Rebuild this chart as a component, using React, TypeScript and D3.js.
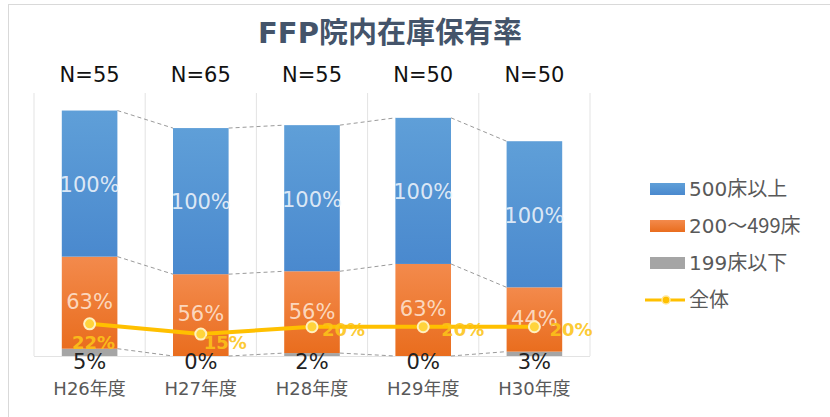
import React from "react";
import * as d3 from "d3";

const categories = ["H26年度", "H27年度", "H28年度", "H29年度", "H30年度"];
const nLabels = ["N=55", "N=65", "N=55", "N=50", "N=50"];
const small = [5, 0, 2, 0, 3]; // 199床以下
const mid = [63, 56, 56, 63, 44]; // 200～499床
const large = [100, 100, 100, 100, 100]; // 500床以上
const overall = [22, 15, 20, 20, 20]; // 全体
const seriesNames = ["500床以上", "200～499床", "199床以下", "全体"];

const W = 830;
const H = 417;
const FONT = "'DejaVu Sans', 'Noto Sans CJK JP', sans-serif";
const CJK = "'Noto Sans CJK JP', sans-serif";

export default function App() {
  const x = d3.scaleBand<string>().domain(categories).range([34, 590]).paddingInner(0).paddingOuter(0);
  const y = d3.scaleLinear().domain([0, 180]).range([356, 93]);
  const bw = x.bandwidth() * 0.5;
  const bx = (c: string) => (x(c) as number) + (x.bandwidth() - bw) / 2;
  const cx = (c: string) => (x(c) as number) + x.bandwidth() / 2;

  const rows = categories.map((c, i) => ({
    c,
    s0: 0,
    s1: small[i],
    m1: small[i] + mid[i],
    l1: small[i] + mid[i] + large[i],
  }));

  const lineGen = d3
    .line<number>()
    .x((_, i) => cx(categories[i]))
    .y((v) => y(v));

  const gridXs = [...categories.map((c) => x(c) as number), 590];

  const connectors: { x1: number; x2: number; y1: number; y2: number }[] = [];
  for (let i = 0; i < rows.length - 1; i++) {
    const a = rows[i];
    const b = rows[i + 1];
    (["s1", "m1", "l1"] as const).forEach((k) => {
      connectors.push({
        x1: bx(a.c) + bw,
        x2: bx(b.c),
        y1: y(a[k]),
        y2: y(b[k]),
      });
    });
  }

  const lineLabelPos = [
    { dx: 4, dy: 19, anchor: "middle" },
    { dx: 3, dy: 9, anchor: "start" },
    { dx: 10, dy: 3, anchor: "start" },
    { dx: 18, dy: 3, anchor: "start" },
    { dx: 15, dy: 3, anchor: "start" },
  ];

  const legendColors = ["url(#gBlue)", "url(#gOrange)", "#a5a5a5"];

  return (
    <svg
      width={W}
      height={H}
      style={{ position: "absolute", left: 0, top: 0, background: "#fff" }}
      fontFamily={FONT}
    >
      <defs>
        <linearGradient id="gBlue" x1="0" y1="0" x2="0" y2="1">
          <stop offset="0%" stopColor="#5f9fd8" />
          <stop offset="100%" stopColor="#4a89ce" />
        </linearGradient>
        <linearGradient id="gOrange" x1="0" y1="0" x2="0" y2="1">
          <stop offset="0%" stopColor="#f38a4c" />
          <stop offset="100%" stopColor="#e96d1e" />
        </linearGradient>
      </defs>
      <rect x={8.5} y={4.5} width={W} height={H} fill="#fff" stroke="#d9d9d9" />

      <text x={390} y={33} dy="0.35em" textAnchor="middle" fontSize={29} fontWeight="bold" fill="#44546a">
        FFP<tspan fontFamily={CJK}>院内在庫保有率</tspan>
      </text>

      {gridXs.map((gx, i) => (
        <line key={i} x1={gx} x2={gx} y1={93} y2={356} stroke="#e3e3e3" strokeWidth={1} />
      ))}
      <line x1={34} x2={590} y1={356.5} y2={356.5} stroke="#e3e3e3" />

      {connectors.map((l, i) => (
        <line key={i} x1={l.x1} x2={l.x2} y1={l.y1} y2={l.y2} stroke="#9a9a9a" strokeWidth={1} strokeDasharray="4,3" />
      ))}

      {rows.map((r) => (
        <g key={r.c}>
          <rect x={bx(r.c)} width={bw} y={y(r.s1)} height={y(r.s0) - y(r.s1)} fill="#a5a5a5" />
          <rect x={bx(r.c)} width={bw} y={y(r.m1)} height={y(r.s1) - y(r.m1)} fill="url(#gOrange)" />
          <rect x={bx(r.c)} width={bw} y={y(r.l1)} height={y(r.m1) - y(r.l1)} fill="url(#gBlue)" />
        </g>
      ))}

      {rows.map((r, i) => (
        <g key={"lab" + r.c} fontSize={21} textAnchor="middle">
          <text x={cx(r.c)} y={(y(r.m1) + y(r.l1)) / 2 + 1} dy="0.35em" fill="#eef3fa" fillOpacity={0.9}>
            {large[i]}%
          </text>
          <text x={cx(r.c)} y={(y(r.s1) + y(r.m1)) / 2 - 1} dy="0.35em" fill="#fde3d0" fillOpacity={0.9}>
            {mid[i]}%
          </text>
          <text x={cx(r.c)} y={362} dy="0.35em" fill="#222">
            {small[i]}%
          </text>
          <text x={cx(r.c)} y={389} dy="0.35em" fill="#595959" fontSize={18}>
            {r.c.slice(0, 3)}
            <tspan fontFamily={CJK}>{r.c.slice(3)}</tspan>
          </text>
          <text x={cx(r.c)} y={75} dy="0.35em" fill="#111" fontSize={21}>
            {nLabels[i]}
          </text>
        </g>
      ))}

      <path d={lineGen(overall) || ""} fill="none" stroke="#ffc000" strokeWidth={4} strokeLinejoin="round" />
      {overall.map((v, i) => (
        <circle key={i} cx={cx(categories[i])} cy={y(v)} r={5.5} fill="#ffd43b" stroke="#fff0c0" strokeWidth={2} />
      ))}
      {overall.map((v, i) => (
        <text
          key={"ol" + i}
          x={cx(categories[i]) + lineLabelPos[i].dx}
          y={y(v) + lineLabelPos[i].dy}
          dy="0.35em"
          textAnchor={lineLabelPos[i].anchor}
          fontSize={18}
          fontWeight="bold"
          fill="#fcc419"
          fillOpacity={0.9}
        >
          {v}%
        </text>
      ))}

      <g fontSize={20} fill="#595959">
        {seriesNames.map((name, i) => {
          const ly = 189 + i * 37;
          const m = name.match(/^[0-9]+/);
          const num = m ? m[0] : "";
          const rest = name.slice(num.length);
          return (
            <g key={name}>
              {i < 3 ? (
                <rect x={650} y={ly - 6} width={35} height={12} fill={legendColors[i]} />
              ) : (
                <g>
                  <line x1={645} x2={685} y1={ly} y2={ly} stroke="#ffc000" strokeWidth={3} />
                  <circle cx={666} cy={ly} r={4} fill="#ffc000" stroke="#ffe699" strokeWidth={1.5} />
                </g>
              )}
              <text x={689} y={ly} dy="0.35em">
                {num}
                <tspan fontFamily={CJK}>{rest}</tspan>
              </text>
            </g>
          );
        })}
      </g>
    </svg>
  );
}
